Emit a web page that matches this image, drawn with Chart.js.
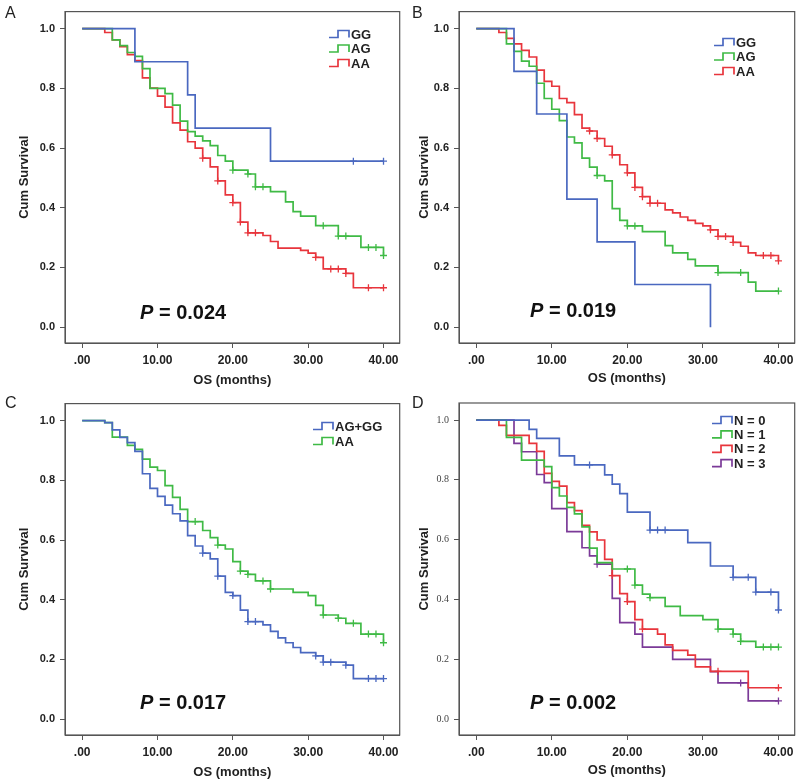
<!DOCTYPE html>
<html>
<head>
<meta charset="utf-8">
<script src="https://cdn.jsdelivr.net/npm/chart.js@4.4.1/dist/chart.umd.min.js"></script>
<style>
  body { margin: 0; background: #fff; width: 800px; height: 784px; position: relative; overflow: hidden;
         font-family: "Liberation Sans", Arial, sans-serif; }
  canvas { position: absolute; }
  .letter { position: absolute; font-size: 16px; color: #222; line-height: 18px; }
  .pval { position: absolute; font-weight: bold; font-size: 20px; color: #111; line-height: 24px; white-space: nowrap; }
</style>
</head>
<body>
<canvas id="cA" width="405" height="392" style="left:0;top:0"></canvas>
<canvas id="cB" width="395" height="392" style="left:405px;top:0"></canvas>
<canvas id="cC" width="405" height="392" style="left:0;top:392px"></canvas>
<canvas id="cD" width="395" height="392" style="left:405px;top:392px"></canvas>

<div class="letter" style="left:5px;top:4px">A</div>
<div class="letter" style="left:412px;top:4px">B</div>
<div class="letter" style="left:5px;top:394px">C</div>
<div class="letter" style="left:412px;top:394px">D</div>

<div class="pval" style="left:140px;top:300px"><i>P</i> = 0.024</div>
<div class="pval" style="left:530px;top:298px"><i>P</i> = 0.019</div>
<div class="pval" style="left:140px;top:690px"><i>P</i> = 0.017</div>
<div class="pval" style="left:530px;top:690px"><i>P</i> = 0.002</div>

<script>
// axis ticks
const xTicks = [0, 10, 20, 30, 40];
const xTickLabels = ['.00', '10.00', '20.00', '30.00', '40.00'];
const yTicks = [0, 0.2, 0.4, 0.6, 0.8, 1.0];
const yTickLabels = ['0.0', '0.2', '0.4', '0.6', '0.8', '1.0'];

// Panel A
const aLabels = ['GG', 'AG', 'AA'];
const aGGTime = [7, 14, 15, 25];
const aGGSurv = [0.889, 0.778, 0.667, 0.556];
const aGGCens = [36, 40];
const aAGTime = [4, 5, 6, 7, 8, 9, 11, 12, 13, 14, 15, 16, 17, 18, 19, 20, 22, 23, 25, 27, 28, 29, 31, 34, 37, 40];
const aAGSurv = [0.962, 0.943, 0.92, 0.907, 0.866, 0.800, 0.782, 0.744, 0.690, 0.655, 0.640, 0.624, 0.608, 0.575, 0.556, 0.526, 0.513, 0.470, 0.454, 0.420, 0.387, 0.372, 0.340, 0.305, 0.267, 0.240];
const aAGCens = [20, 22, 23, 24, 32, 34, 35, 38, 39, 40];
const aAATime = [3, 4, 5, 6, 7, 8, 9, 10, 11, 12, 13, 14, 15, 16, 17, 18, 19, 20, 21, 22, 24, 25, 26, 29, 30, 31, 32, 35, 36];
const aAASurv = [0.987, 0.962, 0.940, 0.913, 0.893, 0.835, 0.801, 0.774, 0.737, 0.684, 0.660, 0.621, 0.600, 0.566, 0.537, 0.490, 0.443, 0.417, 0.352, 0.316, 0.307, 0.287, 0.265, 0.257, 0.248, 0.234, 0.195, 0.180, 0.132];
const aAACens = [16, 18, 20, 21, 22, 23, 31, 33, 34, 35, 38, 40];

// Panel B
const bLabels = ['GG', 'AG', 'AA'];
const bGGTime = [5, 8, 12, 16, 21, 31];
const bGGSurv = [0.857, 0.714, 0.429, 0.286, 0.143, 0];
const bGGCens = [];
const bAGTime = [4, 5, 6, 7, 8, 9, 10, 11, 12, 13, 14, 15, 16, 17, 18, 19, 20, 22, 25, 26, 28, 29, 32, 36, 37];
const bAGSurv = [0.949, 0.924, 0.891, 0.874, 0.817, 0.766, 0.730, 0.692, 0.637, 0.617, 0.566, 0.536, 0.508, 0.490, 0.397, 0.358, 0.339, 0.320, 0.273, 0.249, 0.227, 0.205, 0.183, 0.151, 0.121];
const bAGCens = [16, 20, 21, 32, 35, 40];
const bAATime = [3, 4, 5, 6, 7, 8, 9, 10, 11, 12, 13, 14, 15, 16, 17, 18, 19, 20, 21, 22, 23, 25, 26, 27, 28, 29, 30, 31, 32, 34, 35, 36, 37, 40];
const bAASurv = [0.987, 0.967, 0.949, 0.927, 0.905, 0.861, 0.823, 0.807, 0.766, 0.752, 0.712, 0.667, 0.657, 0.632, 0.606, 0.577, 0.544, 0.517, 0.468, 0.437, 0.415, 0.393, 0.383, 0.369, 0.358, 0.348, 0.339, 0.326, 0.304, 0.284, 0.271, 0.249, 0.240, 0.222];
const bAACens = [15, 16, 18, 20, 21, 22, 23, 24, 31, 32, 33, 34, 38, 39, 40];

// Panel C
const cLabels = ['AG+GG', 'AA'];
const cAGGGTime = [3, 4, 5, 6, 7, 8, 9, 10, 11, 12, 13, 14, 15, 16, 17, 18, 19, 20, 21, 22, 24, 25, 26, 27, 28, 29, 31, 32, 35, 36];
const cAGGGSurv = [0.993, 0.969, 0.944, 0.926, 0.897, 0.822, 0.773, 0.746, 0.717, 0.688, 0.664, 0.615, 0.580, 0.556, 0.537, 0.479, 0.425, 0.414, 0.365, 0.327, 0.316, 0.294, 0.272, 0.256, 0.240, 0.223, 0.212, 0.191, 0.181, 0.136];
const cAGGGCens = [16, 18, 20, 22, 23, 31, 32, 33, 35, 38, 39, 40];
const cAATime = [3, 4, 6, 7, 8, 9, 10, 11, 12, 13, 14, 16, 17, 18, 19, 20, 21, 22, 23, 25, 28, 30, 31, 32, 34, 35, 37, 40];
const cAASurv = [0.993, 0.945, 0.917, 0.904, 0.871, 0.844, 0.833, 0.782, 0.743, 0.703, 0.662, 0.632, 0.608, 0.583, 0.570, 0.528, 0.496, 0.485, 0.463, 0.436, 0.425, 0.414, 0.381, 0.349, 0.338, 0.321, 0.285, 0.256];
const cAACens = [15, 18, 21, 22, 24, 25, 32, 34, 36, 38, 39, 40];

// Panel D
const dLabels = ['N = 0', 'N = 1', 'N = 2', 'N = 3'];
const dN0Time = [7, 8, 11, 13, 17, 18, 19, 20, 23, 28, 31, 34, 37, 40];
const dN0Surv = [0.969, 0.939, 0.880, 0.850, 0.817, 0.786, 0.754, 0.692, 0.632, 0.590, 0.512, 0.474, 0.425, 0.365];
const dN0Cens = [15, 23, 24, 25, 34, 36, 37, 39, 40];
const dN1Time = [4, 6, 9, 10, 11, 12, 13, 14, 15, 16, 18, 21, 22, 23, 25, 27, 30, 32, 34, 35, 37];
const dN1Surv = [0.942, 0.866, 0.844, 0.774, 0.746, 0.708, 0.686, 0.643, 0.572, 0.523, 0.502, 0.448, 0.418, 0.406, 0.377, 0.346, 0.333, 0.301, 0.284, 0.260, 0.241];
const dN1Cens = [20, 21, 23, 32, 34, 35, 38, 39, 40];
const dN2Time = [3, 4, 7, 8, 9, 10, 11, 12, 13, 14, 15, 16, 17, 18, 19, 20, 21, 22, 24, 25, 26, 28, 29, 31, 36];
const dN2Surv = [0.982, 0.949, 0.922, 0.895, 0.822, 0.795, 0.779, 0.724, 0.697, 0.648, 0.626, 0.599, 0.534, 0.480, 0.420, 0.393, 0.333, 0.301, 0.284, 0.248, 0.230, 0.214, 0.175, 0.160, 0.105];
const dN2Cens = [18, 20, 22, 32, 40];
const dN3Time = [5, 6, 8, 9, 10, 12, 14, 15, 16, 18, 19, 21, 22, 26, 31, 32, 36];
const dN3Surv = [0.922, 0.894, 0.818, 0.791, 0.704, 0.627, 0.573, 0.546, 0.518, 0.404, 0.323, 0.284, 0.241, 0.200, 0.159, 0.121, 0.061];
const dN3Cens = [16, 35, 40];

const BLUE = '#4a68c0', GREEN = '#3fba45', RED = '#e8353c', PURPLE = '#7b3a98';
const FONT = '"Liberation Sans", Arial, sans-serif';

function kmPoints(times, surv, cens) {
  const pts = [{x: 0, y: 1}];
  times.forEach((t, i) => pts.push({x: t, y: surv[i]}));
  const last = pts[pts.length - 1];
  const end = cens.length ? Math.max(...cens) : 0;
  if (end > last.x) pts.push({x: end, y: last.y});
  return pts;
}

function survAt(times, surv, t) {
  let s = 1;
  times.forEach((tt, i) => { if (tt <= t) s = surv[i]; });
  return s;
}

function curveSets(label, color, times, surv, cens, order) {
  return [
    {label: label, data: kmPoints(times, surv, cens), borderColor: color, borderWidth: 1.7,
     stepped: true, pointRadius: 0, fill: false, order: order},
    {label: label + ' censored', censor: true, data: cens.map(c => ({x: c, y: survAt(times, surv, c)})),
     showLine: false, pointStyle: 'cross', pointRadius: 3.5, borderColor: color, borderWidth: 1.3,
     backgroundColor: color, order: order}
  ];
}

// frame round the plot area
const framePlugin = {
  id: 'frame',
  afterDraw(chart) {
    const a = chart.chartArea, ctx = chart.ctx;
    ctx.save();
    ctx.strokeStyle = '#555';
    ctx.lineWidth = 1.2;
    ctx.strokeRect(a.left, a.top, a.right - a.left, a.bottom - a.top);
    ctx.restore();
  }
};

// step shaped legend inside the plot
const kmLegend = {
  id: 'kmLegend',
  afterDraw(chart, args, opts) {
    const ctx = chart.ctx;
    const items = chart.data.datasets.filter(d => !d.censor);
    ctx.save();
    ctx.font = 'bold 13px ' + FONT;
    ctx.textBaseline = 'middle';
    items.forEach((d, i) => {
      const x = opts.x, y = opts.y + i * opts.gap;
      ctx.strokeStyle = d.borderColor;
      ctx.lineWidth = 1.7;
      ctx.beginPath();
      ctx.moveTo(x, y + 3.5);
      ctx.lineTo(x + 9, y + 3.5);
      ctx.lineTo(x + 9, y - 3.5);
      ctx.lineTo(x + 20, y - 3.5);
      ctx.lineTo(x + 20, y + 3.5);
      ctx.stroke();
      ctx.fillStyle = '#222';
      ctx.fillText(d.label, x + 22, y + 1);
    });
    ctx.restore();
  }
};

function makeChart(id, datasets, p) {
  const tickFontY = p.serifY
    ? {family: '"Liberation Serif", "Times New Roman", serif', size: 10, weight: 'normal'}
    : {family: FONT, size: 11, weight: 'bold'};
  return new Chart(document.getElementById(id), {
    type: 'line',
    data: {datasets: datasets},
    options: {
      responsive: false,
      animation: false,
      layout: {padding: {left: 0, top: p.top, right: p.right, bottom: 0}},
      plugins: {
        legend: {display: false},
        tooltip: {enabled: false},
        kmLegend: p.legend
      },
      scales: {
        x: {
          type: 'linear', min: -2.28, max: 42.15,
          afterBuildTicks: s => { s.ticks = xTicks.map(v => ({value: v})); },
          afterFit: s => { s.height = 49; },
          ticks: {callback: (v, i) => xTickLabels[i], color: '#222', padding: 5,
                  maxRotation: 0, autoSkip: false, font: {family: FONT, size: 12, weight: 'bold'}},
          grid: {drawOnChartArea: false, drawTicks: true, tickLength: 5, color: '#555'},
          border: {display: true, color: '#555'},
          title: {display: true, text: 'OS (months)', color: '#222',
                  font: {family: FONT, size: 13, weight: 'bold'}, padding: {top: 0, bottom: p.xTitlePad}}
        },
        y: {
          type: 'linear', min: -0.053, max: 1.057,
          afterBuildTicks: s => { s.ticks = yTicks.map(v => ({value: v})); },
          afterFit: s => { s.width = p.yWidth; },
          ticks: {callback: (v, i) => yTickLabels[i], color: p.serifY ? '#444' : '#222', padding: 5,
                  autoSkip: false, font: tickFontY},
          grid: {drawOnChartArea: false, drawTicks: true, tickLength: 5, color: '#555'},
          border: {display: true, color: '#555'},
          title: {display: true, text: 'Cum Survival', color: '#222',
                  font: {family: FONT, size: 13, weight: 'bold'}, padding: {top: p.yTitlePad, bottom: 0}}
        }
      }
    },
    plugins: [framePlugin, kmLegend]
  });
}

makeChart('cA', [
  ...curveSets(aLabels[0], BLUE, aGGTime, aGGSurv, aGGCens, 1),
  ...curveSets(aLabels[1], GREEN, aAGTime, aAGSurv, aAGCens, 2),
  ...curveSets(aLabels[2], RED, aAATime, aAASurv, aAACens, 3)
], {top: 4, right: 3, yWidth: 65, yTitlePad: 17, xTitlePad: 4, legend: {x: 329, y: 34, gap: 14.5}});

makeChart('cB', [
  ...curveSets(bLabels[0], BLUE, bGGTime, bGGSurv, bGGCens, 1),
  ...curveSets(bLabels[1], GREEN, bAGTime, bAGSurv, bAGCens, 2),
  ...curveSets(bLabels[2], RED, bAATime, bAASurv, bAACens, 3)
], {top: 4, right: 5, yWidth: 54, yTitlePad: 12, xTitlePad: 6, legend: {x: 309, y: 42, gap: 14.5}});

makeChart('cC', [
  ...curveSets(cLabels[0], BLUE, cAGGGTime, cAGGGSurv, cAGGGCens, 1),
  ...curveSets(cLabels[1], GREEN, cAATime, cAASurv, cAACens, 2)
], {top: 3, right: 3, yWidth: 65, yTitlePad: 17, xTitlePad: 4, legend: {x: 313, y: 34, gap: 15}});

makeChart('cD', [
  ...curveSets(dLabels[0], BLUE, dN0Time, dN0Surv, dN0Cens, 1),
  ...curveSets(dLabels[1], GREEN, dN1Time, dN1Surv, dN1Cens, 2),
  ...curveSets(dLabels[2], RED, dN2Time, dN2Surv, dN2Cens, 3),
  ...curveSets(dLabels[3], PURPLE, dN3Time, dN3Surv, dN3Cens, 4)
], {top: 4, right: 5, yWidth: 54, yTitlePad: 12, xTitlePad: 6, serifY: true, legend: {x: 307, y: 28, gap: 14.4}});
</script>
</body>
</html>
